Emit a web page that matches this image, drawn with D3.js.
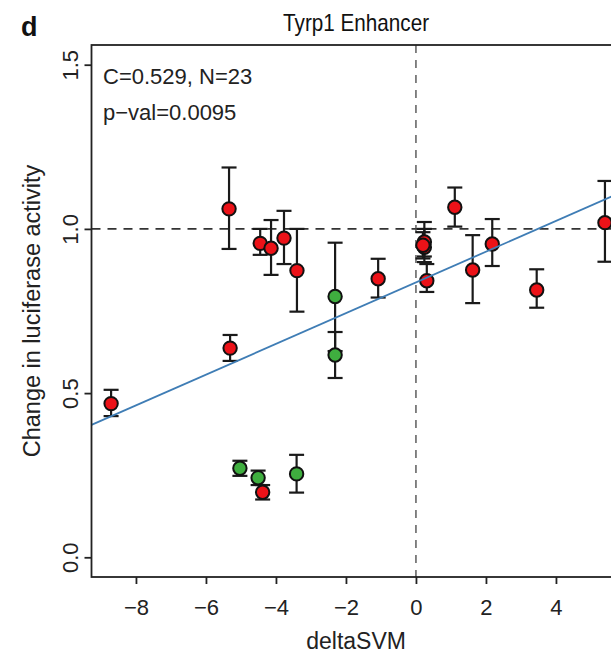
<!DOCTYPE html>
<html>
<head>
<meta charset="utf-8">
<script src="https://cdn.jsdelivr.net/npm/d3@7"></script>
<style>
  html, body { margin: 0; padding: 0; background: #fff; }
  svg { display: block; font-family: "Liberation Sans", Arial, sans-serif; }
</style>
</head>
<body>
<svg id="chart" width="611" height="657"></svg>
<script>
// deltaSVM score per enhancer variant
const deltaSVM = [-8.71, -5.31, -5.34, -4.45, -4.14, -3.77, -3.40, -2.31, -2.31, -1.08,
                  0.24, 0.24, 0.31, 0.20, 1.11, 1.62, 2.18, 3.45, 5.40,
                  -5.03, -4.51, -4.38, -3.41];
// mean change in luciferase activity
const activity = [0.468, 0.637, 1.061, 0.956, 0.941, 0.972, 0.873, 0.794, 0.616, 0.848,
                  0.960, 0.944, 0.842, 0.950, 1.066, 0.875, 0.954, 0.814, 1.019,
                  0.271, 0.242, 0.198, 0.254];
// error bar limits
const activityLow = [0.430, 0.598, 0.939, 0.921, 0.860, 0.893, 0.748, 0.628, 0.546, 0.791,
                     0.899, 0.916, 0.808, 0.910, 1.007, 0.774, 0.887, 0.760, 0.900,
                     0.248, 0.220, 0.176, 0.197];
const activityHigh = [0.510, 0.677, 1.187, 1.000, 1.027, 1.055, 1.000, 0.958, 0.686, 0.909,
                      1.021, 1.000, 0.893, 0.990, 1.126, 0.981, 1.030, 0.877, 1.146,
                      0.294, 0.264, 0.220, 0.312];
// variant class: "r" = red, "g" = green
const variantClass = ["r", "r", "r", "r", "r", "r", "r", "g", "g", "r",
                      "r", "r", "r", "r", "r", "r", "r", "r", "r",
                      "g", "g", "r", "g"];

// axis ticks
const xTicks = [-8, -6, -4, -2, 0, 2, 4];
const yTicks = [0.0, 0.5, 1.0, 1.5];

// fitted regression line (intercept, slope)
const fitIntercept = 0.837;
const fitSlope = 0.0468;

const titleText = "Tyrp1 Enhancer";
const panelLetter = "d";
const statLines = ["C=0.529, N=23", "p\u2212val=0.0095"];
const xLabel = "deltaSVM";
const yLabel = "Change in luciferase activity";

const colors = { r: "#ec1218", g: "#3fae3f" };
const font = "Liberation Sans, Arial, sans-serif";

const svg = d3.select("#chart");

const x = d3.scaleLinear().domain([-9.27, 5.85]).range([91.5, 620.7]);
const y = d3.scaleLinear().domain([-0.06, 1.56]).range([577, 45]);

const [x0, x1] = x.range();
const [yb, yt] = y.range();

svg.append("defs").append("clipPath").attr("id", "plotClip")
  .append("rect").attr("x", x0).attr("y", yt).attr("width", x1 - x0).attr("height", yb - yt);

// reference lines at no change and zero deltaSVM
const ref = svg.append("g").attr("clip-path", "url(#plotClip)");
ref.append("line")
  .attr("x1", x0).attr("x2", x1).attr("y1", y(1)).attr("y2", y(1))
  .attr("stroke", "#333").attr("stroke-width", 1.6).attr("stroke-dasharray", "9,7");
ref.append("line")
  .attr("x1", x(0)).attr("x2", x(0)).attr("y1", yt).attr("y2", yb)
  .attr("stroke", "#444").attr("stroke-width", 1.3).attr("stroke-dasharray", "8,7");

const idx = d3.range(deltaSVM.length);

// error bars
const bars = svg.append("g").attr("stroke", "#1a1a1a").attr("stroke-width", 2.2).attr("fill", "none");
const capW = 7.5;
idx.forEach(i => {
  const cx = x(deltaSVM[i]);
  bars.append("line").attr("x1", cx).attr("x2", cx)
    .attr("y1", y(activityLow[i])).attr("y2", y(activityHigh[i]));
  bars.append("line").attr("x1", cx - capW).attr("x2", cx + capW)
    .attr("y1", y(activityLow[i])).attr("y2", y(activityLow[i]));
  bars.append("line").attr("x1", cx - capW).attr("x2", cx + capW)
    .attr("y1", y(activityHigh[i])).attr("y2", y(activityHigh[i]));
});

// points
svg.append("g").selectAll("circle").data(idx).join("circle")
  .attr("cx", i => x(deltaSVM[i]))
  .attr("cy", i => y(activity[i]))
  .attr("r", 6.7)
  .attr("fill", i => colors[variantClass[i]])
  .attr("stroke", "#111")
  .attr("stroke-width", 2);

// regression line
svg.append("g").attr("clip-path", "url(#plotClip)")
  .append("line")
  .attr("x1", x0).attr("x2", x1)
  .attr("y1", y(fitIntercept + fitSlope * x.invert(x0)))
  .attr("y2", y(fitIntercept + fitSlope * x.invert(x1)))
  .attr("stroke", "#3f7db5").attr("stroke-width", 1.8);

// plot frame
svg.append("rect")
  .attr("x", x0).attr("y", yt).attr("width", x1 - x0).attr("height", yb - yt)
  .attr("fill", "none").attr("stroke", "#222").attr("stroke-width", 1.8);

// x axis
const xAxis = svg.append("g").attr("transform", `translate(0,${yb})`)
  .call(d3.axisBottom(x).tickValues(xTicks).tickSize(7).tickPadding(15)
        .tickFormat(d => d3.format("d")(d).replace("-", "\u2212")));
xAxis.select(".domain").remove();
xAxis.selectAll(".tick line").attr("stroke", "#222").attr("stroke-width", 1.8);
xAxis.selectAll("text").attr("font-size", 22).attr("fill", "#222").attr("font-family", font);

// y axis with rotated labels
const yAxis = svg.append("g").attr("transform", `translate(${x0},0)`)
  .call(d3.axisLeft(y).tickValues(yTicks).tickSize(7).tickFormat(d3.format(".1f")));
yAxis.select(".domain").remove();
yAxis.selectAll(".tick line").attr("stroke", "#222").attr("stroke-width", 1.8);
yAxis.selectAll("text")
  .attr("font-size", 22).attr("fill", "#222").attr("font-family", font)
  .attr("x", null).attr("dy", null)
  .attr("text-anchor", "middle")
  .attr("transform", "translate(-14,0) rotate(-90)");

// axis titles
svg.append("text")
  .attr("x", (x0 + x1) / 2).attr("y", 649)
  .attr("text-anchor", "middle").attr("font-size", 23).attr("fill", "#222")
  .text(xLabel);
svg.append("text")
  .attr("transform", `translate(40,${(yt + yb) / 2}) rotate(-90)`)
  .attr("text-anchor", "middle").attr("font-size", 23.5).attr("fill", "#222")
  .text(yLabel);

// title, set in a condensed width, and panel letter
svg.append("text")
  .attr("x", (x0 + x1) / 2).attr("y", 31)
  .attr("text-anchor", "middle").attr("font-size", 24).attr("fill", "#111")
  .attr("textLength", 146).attr("lengthAdjust", "spacingAndGlyphs")
  .text(titleText);
svg.append("text")
  .attr("x", 21).attr("y", 36)
  .attr("font-size", 27).attr("font-weight", "bold").attr("fill", "#111")
  .text(panelLetter);

// correlation statistics
svg.append("g").selectAll("text").data(statLines).join("text")
  .attr("x", 103).attr("y", (d, i) => 84 + i * 36)
  .attr("font-size", 22).attr("fill", "#222")
  .text(d => d);
</script>
</body>
</html>
